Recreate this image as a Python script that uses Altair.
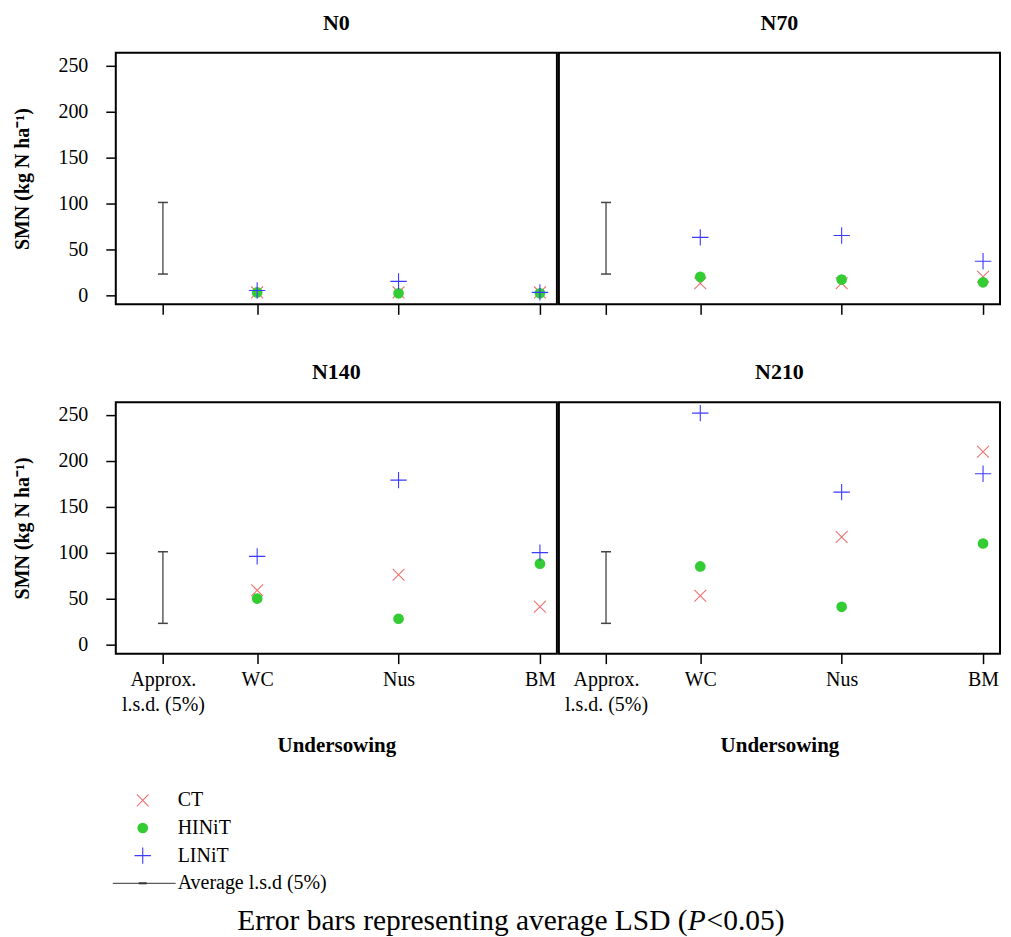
import altair as alt
import pandas as pd

# ---------------- data ----------------
panel_names = ["N0", "N70", "N140", "N210"]
undersowing = ["WC", "Nus", "BM"]
lsd_label = ["Approx.", "l.s.d. (5%)"]
treatments = ["CT", "HINiT", "LINiT"]

# values per panel (N0, N70, N140, N210), per undersowing (WC, Nus, BM)
ct_values = [[3, 3, 3], [13, 13, 20], [59, 76, 41], [53, 117, 210]]
hinit_values = [[3, 2, 2], [20, 17, 14], [50, 28, 88], [85, 41, 110]]
linit_values = [[5, 15, 3], [63, 65, 37], [96, 179, 100], [252, 166, 186]]
lsd_bar = [23, 101]
y_ticks = [0, 50, 100, 150, 200, 250]
legend_labels = ["CT", "HINiT", "LINiT", "Average l.s.d (5%)"]

FONT = "Liberation Serif"

styles = {
    "CT": dict(shape="M-1,-1L1,1M-1,1L1,-1", color="#f07070", filled=False, size=140,
               strokeWidth=1.1, opacity=1),
    "HINiT": dict(shape="circle", color="#33cc33", filled=True, size=115, opacity=1),
    "LINiT": dict(shape="M-1,0L1,0M0,-1L0,1", color="#3b3bff", filled=False, size=270,
                  strokeWidth=1.1, opacity=1),
}

# x positions: l.s.d. bar slot then the undersowing categories
lsd_pos = 1.0 / 3.0
cat_pos = {c: i + 1 for i, c in enumerate(undersowing)}
tick_vals = [lsd_pos] + [cat_pos[c] for c in undersowing]

label_expr = (
    "datum.value < 0.5 ? ['" + lsd_label[0] + "', '" + lsd_label[1] + "'] : "
    + " : ".join(
        f"datum.value < {cat_pos[c] + 0.5} ? '{c}'" for c in undersowing[:-1]
    )
    + f" : '{undersowing[-1]}'"
)

xscale = alt.Scale(domain=[0, 3.12], nice=False, zero=False)
yscale = alt.Scale(domain=[-10, 264], nice=False, zero=False)

W, H = 442, 252


def make_panel(idx, bottom, left):
    rows = []
    for t, vals in zip(treatments, [ct_values[idx], hinit_values[idx], linit_values[idx]]):
        for c, v in zip(undersowing, vals):
            rows.append({"treatment": t, "cat": c, "pos": cat_pos[c], "smn": v})
    df = pd.DataFrame(rows)

    xaxis_kw = dict(
        values=tick_vals, grid=False, domain=False, ticks=True, tickSize=10,
        tickWidth=1.5, tickColor="black", labels=bottom, labelExpr=label_expr,
        labelFont=FONT, labelFontSize=20, labelColor="black", labelPadding=6,
        labelLineHeight=25, labelAngle=0, titleFont=FONT, titleFontSize=21,
        titleFontWeight="bold", titleColor="black", titlePadding=20,
    )
    if bottom:
        x = alt.X("pos:Q", scale=xscale, axis=alt.Axis(title="Undersowing", **xaxis_kw))
    else:
        x = alt.X("pos:Q", scale=xscale, axis=alt.Axis(title=None, **xaxis_kw))

    if left:
        y = alt.Y(
            "smn:Q", scale=yscale,
            axis=alt.Axis(
                values=y_ticks, grid=False, domain=False, tickSize=10, tickWidth=1.5,
                tickColor="black", labelFont=FONT, labelFontSize=20, labelColor="black",
                labelPadding=18, title="SMN (kg N ha\u207b\u00b9)", titleFont=FONT,
                titleFontSize=20, titleFontWeight="bold", titleColor="black",
                titlePadding=25,
            ),
        )
    else:
        y = alt.Y("smn:Q", scale=yscale, axis=None)

    # error bar (approx. l.s.d.)
    eb = pd.DataFrame({"pos": [lsd_pos], "smn": [lsd_bar[0]], "smn2": [lsd_bar[1]]})
    caps = pd.DataFrame({"pos": [lsd_pos, lsd_pos], "smn": lsd_bar})
    layers = [
        alt.Chart(eb).mark_rule(color="#444444", strokeWidth=1.3).encode(x=x, y=y, y2="smn2:Q"),
        alt.Chart(caps).mark_point(shape="M-1,0L1,0", size=100, color="#444444",
                                   filled=False, strokeWidth=1.5, opacity=1).encode(x=x, y=y),
    ]
    for t in treatments:
        st = styles[t]
        layers.append(
            alt.Chart(df[df["treatment"] == t]).mark_point(**st).encode(x=x, y=y)
        )
    return alt.layer(*layers).properties(
        width=W, height=H,
        title=alt.TitleParams(panel_names[idx], font=FONT, fontSize=22,
                              fontWeight="bold", color="black", offset=18),
    )


top = alt.hconcat(make_panel(0, False, True), make_panel(1, False, False), spacing=0)
bot = alt.hconcat(make_panel(2, True, True), make_panel(3, True, False), spacing=0)
grid = alt.vconcat(top, bot, spacing=44)

# ---------------- legend + caption ----------------
LH = 140
leg_df = pd.DataFrame({"label": legend_labels, "row": list(range(len(legend_labels)))})
ly = alt.Y("row:Q", scale=alt.Scale(domain=[-0.47, 4.584], reverse=True), axis=None)

leg_layers = []
for i, t in enumerate(treatments):
    st = styles[t]
    leg_layers.append(
        alt.Chart(leg_df[leg_df["row"] == i]).mark_point(**st).encode(x=alt.value(27), y=ly)
    )
leg_layers.append(
    alt.Chart(leg_df).mark_text(align="left", baseline="middle", font=FONT,
                                fontSize=20, color="black").encode(
        x=alt.value(62), y=ly, text="label:N")
)
line_df = leg_df[leg_df["row"] == 3]
leg_layers.append(
    alt.Chart(line_df).mark_rule(color="#333333", strokeWidth=1).encode(
        x=alt.value(-3), x2=alt.value(60), y=ly)
)
leg_layers.append(
    alt.Chart(line_df).mark_rule(color="#333333", strokeWidth=2).encode(
        x=alt.value(23), x2=alt.value(31), y=ly)
)

cap_parts = ["Error bars representing average LSD (", "P", "<0.05)"]
cap_df = pd.DataFrame({"a": [cap_parts[0]], "b": [cap_parts[1]], "c": [cap_parts[2]]})
CAP_Y = 134
CAP_FS = 29.5
leg_layers += [
    alt.Chart(cap_df).mark_text(align="right", baseline="middle", font=FONT, fontSize=CAP_FS,
                                color="black").encode(x=alt.value(573), y=alt.value(CAP_Y), text="a:N"),
    alt.Chart(cap_df).mark_text(align="left", baseline="middle", font=FONT, fontSize=CAP_FS,
                                fontStyle="italic", color="black").encode(
        x=alt.value(573), y=alt.value(CAP_Y), text="b:N"),
    alt.Chart(cap_df).mark_text(align="left", baseline="middle", font=FONT, fontSize=CAP_FS,
                                color="black").encode(x=alt.value(592), y=alt.value(CAP_Y), text="c:N"),
]
legend = alt.layer(*leg_layers).properties(
    width=W * 2, height=LH, view=alt.ViewBackground(stroke="transparent")
)

chart = (
    alt.vconcat(grid, legend, spacing=30)
    .properties(padding={"left": 4, "top": 2, "right": 2, "bottom": 0})
    .configure(background="white")
    .configure_view(stroke="black", strokeWidth=2)
)

chart.save("out.html", embed_options={"renderer": "svg", "actions": False})
